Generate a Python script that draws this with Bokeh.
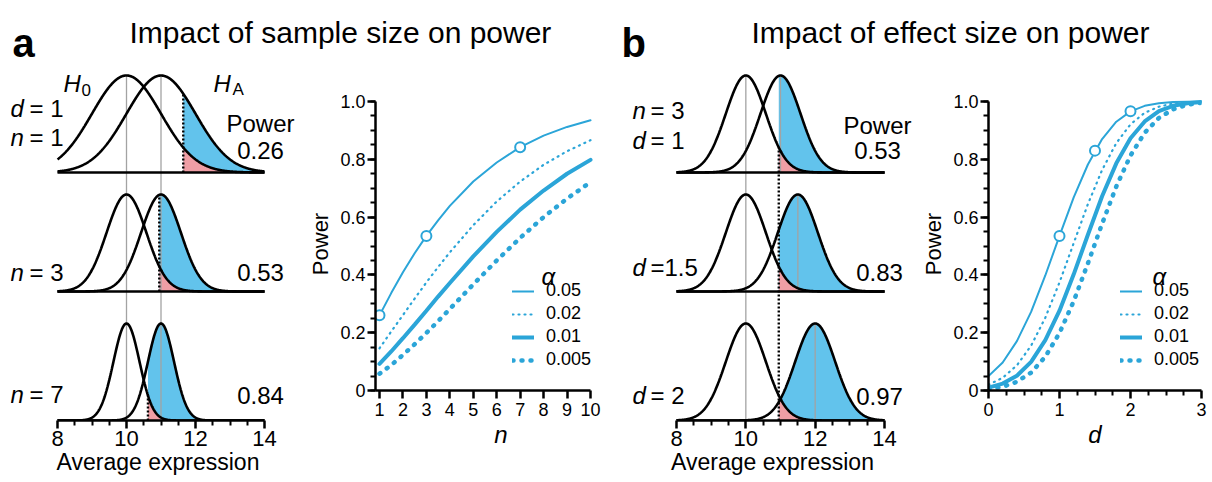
import numpy as np
from bokeh.plotting import figure
from bokeh.layouts import column, row
from bokeh.models import Range1d, FixedTicker, Legend, LegendItem
from bokeh.core.properties import value
from bokeh.embed import file_html
from bokeh.resources import INLINE

# ---------------- data ----------------
H0_MEAN = 10.0
A_HA_MEAN = 11.0
A_N = [1, 3, 7]
A_POWER_TXT = ["0.26", "0.53", "0.84"]
A_DOT_TO = ["HA", "HA", "H0"]
B_N = 3
B_D = [1.0, 1.5, 2.0]
B_POWER_TXT = ["0.53", "0.83", "0.97"]
Z_CRIT = 1.645
DENS_TICKS = [8, 10, 12, 14]
DENS_MINOR = [8.5, 9, 9.5, 10.5, 11, 11.5, 12.5, 13, 13.5]

ALPHAS = ["0.05", "0.02", "0.01", "0.005"]
N_GRID = [1, 1.5, 2, 2.5, 3, 3.5, 4, 5, 6, 7, 8, 9, 10]
POW_N_A05 = [0.26, 0.337, 0.409, 0.475, 0.535, 0.589, 0.639, 0.723, 0.789, 0.842, 0.882, 0.912, 0.935]
POW_N_A02 = [0.146, 0.204, 0.261, 0.318, 0.374, 0.427, 0.478, 0.572, 0.654, 0.723, 0.781, 0.828, 0.866]
POW_N_A01 = [0.092, 0.135, 0.181, 0.228, 0.276, 0.325, 0.372, 0.464, 0.549, 0.626, 0.692, 0.750, 0.798]
POW_N_A005 = [0.058, 0.088, 0.123, 0.160, 0.199, 0.240, 0.282, 0.367, 0.450, 0.528, 0.600, 0.664, 0.721]
MARK_N = [1, 3, 7]
MARK_N_POW = [0.26, 0.535, 0.842]

D_GRID = [0, 0.2, 0.4, 0.6, 0.8, 1.0, 1.2, 1.4, 1.6, 1.8, 2.0, 2.2, 2.4, 2.6, 2.8, 3.0]
POW_D_A05 = [0.050, 0.097, 0.171, 0.272, 0.398, 0.535, 0.668, 0.782, 0.870, 0.930, 0.966, 0.985, 0.994, 0.998, 0.999, 1.000]
POW_D_A02 = [0.020, 0.044, 0.087, 0.155, 0.252, 0.374, 0.510, 0.645, 0.763, 0.856, 0.921, 0.961, 0.982, 0.993, 0.997, 0.999]
POW_D_A01 = [0.010, 0.024, 0.051, 0.099, 0.174, 0.276, 0.402, 0.539, 0.672, 0.786, 0.873, 0.931, 0.967, 0.985, 0.994, 0.998]
POW_D_A005 = [0.005, 0.013, 0.030, 0.062, 0.117, 0.199, 0.309, 0.440, 0.577, 0.706, 0.813, 0.892, 0.943, 0.973, 0.989, 0.996]
MARK_D = [1.0, 1.5, 2.0]
MARK_D_POW = [0.535, 0.830, 0.966]

POWER_TICKS = [0, 0.2, 0.4, 0.6, 0.8, 1.0]
POWER_MINOR = [round(0.05 * i, 2) for i in range(21)]

# ---------------- styles / layout ----------------
FONT = "Liberation Sans"
BLUE = "#2ba5d8"
FILL_BLUE = "#62c3ec"
FILL_PINK = "#ef9ea5"
GRAY = "#a3a3a3"
LINE_W = [2, 2.2, 4, 4.5]
LINE_DASH = ["solid", "1 5", "solid", "1 8"]

HEAD_H = 64
HEAD_SHIFT = 13           # header canvas content appears this much lower
TOTAL_H = 482
BODY_H = TOTAL_H - HEAD_H
AXIS_PY = 420          # page y of density axes
PWR_TOP_PY = 97        # page y of top of power frames
PWR_AXIS_PY = 390      # page y of power x axes
ROW_PY = [172, 291, 420]  # page y of density baselines
PEAK = 97
PPU_A = 34.5
PPU_B = 34.67


def base_fig(**kw):
    p = figure(title=None, toolbar_location=None, output_backend="svg", **kw)
    p.outline_line_color = None
    p.background_fill_color = "white"
    p.border_fill_color = "white"
    p.xgrid.visible = False
    p.ygrid.visible = False
    return p


def txt(p, x, y, s, size, style="normal", align="left", baseline="alphabetic", color="black"):
    p.text(x=[x], y=[y], text=[s], text_font=value(FONT), text_font_size=value(size),
           text_font_style=style, text_align=align, text_baseline=baseline, text_color=color)


def style_axis(ax, lab_size, axlab_size, axlab_style="normal"):
    ax.axis_line_width = 2.5
    ax.axis_line_color = "black"
    ax.major_tick_line_width = 2.5
    ax.minor_tick_line_width = 2
    ax.major_tick_line_color = "black"
    ax.minor_tick_line_color = "black"
    ax.major_tick_out = 8
    ax.major_tick_in = 0
    ax.minor_tick_out = 5
    ax.minor_tick_in = 0
    ax.major_label_text_font = FONT
    ax.major_label_text_font_size = lab_size
    ax.major_label_text_color = "black"
    ax.axis_label_text_font = FONT
    ax.axis_label_text_font_size = axlab_size
    ax.axis_label_text_font_style = axlab_style
    ax.axis_label_text_color = "black"


def gauss(x, m, s):
    return np.exp(-0.5 * ((x - m) / s) ** 2)


# ---------------- header ----------------
head = base_fig(width=1212, height=HEAD_H, x_range=Range1d(0, 1212), y_range=Range1d(HEAD_H, 0),
                min_border=0, min_border_top=0, min_border_bottom=0,
                x_axis_location=None, y_axis_location=None)
txt(head, 12, 55 - HEAD_SHIFT, "a", "40px", "bold")
txt(head, 129, 45 - HEAD_SHIFT, "Impact of sample size on power", "30px")
txt(head, 621, 55 - HEAD_SHIFT, "b", "40px", "bold")
txt(head, 751, 45 - HEAD_SHIFT, "Impact of effect size on power", "30px")


# ---------------- density figures ----------------
def dens_fig(width, left_border, fig_left_px, x8_px, ppu):
    frame_left = fig_left_px + left_border
    frame_w = width - left_border
    start = 8 - (x8_px - frame_left) / ppu
    p = base_fig(width=width, height=BODY_H,
                 x_range=Range1d(start, start + frame_w / ppu),
                 y_range=Range1d(0, AXIS_PY - HEAD_H),
                 min_border_left=left_border, min_border_right=0, min_border_top=0,
                 min_border_bottom=TOTAL_H - AXIS_PY, y_axis_location=None)
    ax = p.xaxis[0]
    ax.ticker = FixedTicker(ticks=DENS_TICKS, minor_ticks=DENS_MINOR)
    ax.bounds = (8, 14)
    ax.axis_label = "Average expression"
    style_axis(ax, "22px", "23px")
    ax.major_label_standoff = 2
    ax.axis_label_standoff = 0
    X = lambda px: start + (px - frame_left) / ppu
    Y = lambda py: AXIS_PY - py
    return p, X, Y


def draw_fill(p, base, m0, ma, sd):
    xc = m0 + Z_CRIT * sd
    xf = np.linspace(xc, 14, 200)
    b = np.full_like(xf, base)
    p.varea(x=xf, y1=b, y2=base + PEAK * gauss(xf, ma, sd), fill_color=FILL_BLUE)
    p.varea(x=xf, y1=b, y2=base + PEAK * gauss(xf, m0, sd), fill_color=FILL_PINK)


def draw_curves(p, base, m0, ma, sd, baseline=True):
    xs = np.linspace(8, 14, 500)
    p.line(xs, base + PEAK * gauss(xs, m0, sd), line_color="black", line_width=2.6)
    p.line(xs, base + PEAK * gauss(xs, ma, sd), line_color="black", line_width=2.6)
    if baseline:
        p.line([8, 14], [base, base], line_color="black", line_width=2.6)


# panel a densities
DA_W = 305
dA, XA, YA = dens_fig(DA_W, 10, 0, 57, PPU_A)
for i, n in enumerate(A_N):
    draw_fill(dA, YA(ROW_PY[i]), H0_MEAN, A_HA_MEAN, 1 / np.sqrt(n))
top_a = YA(ROW_PY[0]) + PEAK
for m in (H0_MEAN, A_HA_MEAN):
    dA.line([m, m], [0, top_a], line_color=GRAY, line_width=1.3)
for i, n in enumerate(A_N):
    sd = 1 / np.sqrt(n)
    base = YA(ROW_PY[i])
    draw_curves(dA, base, H0_MEAN, A_HA_MEAN, sd, baseline=(i < 2))
    xc = H0_MEAN + Z_CRIT * sd
    mtop = A_HA_MEAN if A_DOT_TO[i] == "HA" else H0_MEAN
    dA.line([xc, xc], [base, base + PEAK * gauss(xc, mtop, sd)], line_color="black",
            line_width=2.4, line_dash="2 2")

txt(dA, XA(63), YA(83), "H", "24px", "italic")
txt(dA, XA(81), YA(89), "0", "17px")
txt(dA, XA(213), YA(83), "H", "24px", "italic")
txt(dA, XA(232), YA(89), "A", "17px")
txt(dA, XA(10), YA(108), "d", "24px", "italic")
txt(dA, XA(29), YA(108), "= 1", "24px")
for i, n in enumerate(A_N):
    by = [137, 272, 394][i]
    txt(dA, XA(10), YA(by), "n", "24px", "italic")
    txt(dA, XA(29), YA(by), "= %d" % n, "24px")
txt(dA, XA(260), YA(123), "Power", "24px", align="center")
txt(dA, XA(260), YA(150), A_POWER_TXT[0], "24px", align="center")
txt(dA, XA(260), YA(272), A_POWER_TXT[1], "24px", align="center")
txt(dA, XA(260), YA(395), A_POWER_TXT[2], "24px", align="center")

# panel b densities
PB_LEFT = 918
DB_W = PB_LEFT - 626
dB, XB, YB = dens_fig(DB_W, 0, 626, 676, PPU_B)
sd_b = 1 / np.sqrt(B_N)
for i, d in enumerate(B_D):
    draw_fill(dB, YB(ROW_PY[i]), H0_MEAN, H0_MEAN + d, sd_b)
top_b = YB(ROW_PY[0]) + PEAK
dB.line([H0_MEAN, H0_MEAN], [0, top_b], line_color=GRAY, line_width=1.3)
for i, d in enumerate(B_D):
    base = YB(ROW_PY[i])
    dB.line([H0_MEAN + d, H0_MEAN + d], [base, base + PEAK], line_color=GRAY, line_width=1.3)
for i, d in enumerate(B_D):
    draw_curves(dB, YB(ROW_PY[i]), H0_MEAN, H0_MEAN + d, sd_b, baseline=(i < 2))
xc_b = H0_MEAN + Z_CRIT * sd_b
dB.line([xc_b, xc_b], [0, YB(ROW_PY[0]) + PEAK * gauss(xc_b, H0_MEAN, sd_b)],
        line_color="black", line_width=2.4, line_dash="2 2")

txt(dB, XB(632), YB(110), "n", "24px", "italic")
txt(dB, XB(650), YB(110), "= %d" % B_N, "24px")
lbl_b = ["= 1", "=1.5", "= 2"]
for i, by in enumerate([140, 267, 395]):
    txt(dB, XB(632), YB(by), "d", "24px", "italic")
    txt(dB, XB(650), YB(by), lbl_b[i], "24px")
txt(dB, XB(877), YB(125), "Power", "24px", align="center")
txt(dB, XB(877), YB(150), B_POWER_TXT[0], "24px", align="center")
txt(dB, XB(879), YB(272), B_POWER_TXT[1], "24px", align="center")
txt(dB, XB(879), YB(396), B_POWER_TXT[2], "24px", align="center")


# ---------------- power figures ----------------
def power_fig(width, left_border, right_border, xr, xticks, xminor, xlabel, xbounds):
    p = base_fig(width=width, height=BODY_H, x_range=Range1d(*xr),
                 y_range=Range1d(0, 1 + 4 / (PWR_AXIS_PY - PWR_TOP_PY - 4)),
                 min_border_left=left_border, min_border_right=right_border,
                 min_border_top=PWR_TOP_PY - HEAD_H, min_border_bottom=TOTAL_H - PWR_AXIS_PY)
    xa = p.xaxis[0]
    xa.ticker = FixedTicker(ticks=xticks, minor_ticks=xminor)
    xa.bounds = xbounds
    xa.axis_label = xlabel
    style_axis(xa, "18px", "24px", "italic")
    xa.major_label_standoff = 4
    xa.axis_label_standoff = 2
    ya = p.yaxis[0]
    ya.ticker = FixedTicker(ticks=POWER_TICKS, minor_ticks=POWER_MINOR)
    ya.bounds = (0, 1)
    ya.major_label_overrides = {0: "0", 1: "1.0"}
    ya.axis_label = "Power"
    style_axis(ya, "18px", "22px")
    ya.major_label_standoff = 2
    ya.axis_label_standoff = 4
    return p


def draw_power(p, xs, series, mx, my, legend_loc, alpha_xy):
    items = []
    for lab, ys, w, dash in zip(ALPHAS, series, LINE_W, LINE_DASH):
        r = p.line(xs, ys, line_color=BLUE, line_width=w, line_dash=dash, line_cap="round")
        items.append(LegendItem(label=lab, renderers=[r]))
    p.scatter(mx, my, marker="circle", size=10, fill_color="white", line_color=BLUE, line_width=2)
    leg = Legend(items=items, location=legend_loc, padding=0, margin=0, spacing=2,
                 glyph_width=22, glyph_height=20, label_height=20, label_standoff=12,
                 label_text_font=FONT, label_text_font_size="18px", label_text_color="black",
                 border_line_color=None, background_fill_alpha=0)
    p.add_layout(leg)
    txt(p, alpha_xy[0], alpha_xy[1], "α", "24px", "italic")


ppu_n = 211 / 9
PA_LEFT = DA_W
PA_FRAME_LEFT = 375
xa_start = 1 - (379 - PA_FRAME_LEFT) / ppu_n
pA = power_fig(626 - PA_LEFT, PA_FRAME_LEFT - PA_LEFT, 0,
               (xa_start, xa_start + (626 - PA_FRAME_LEFT) / ppu_n),
               list(range(1, 11)), [], "n", (xa_start, 10))
draw_power(pA, N_GRID, [POW_N_A05, POW_N_A02, POW_N_A01, POW_N_A005], MARK_N, MARK_N_POW,
           (512 - PA_FRAME_LEFT, 20), (xa_start + (541 - PA_FRAME_LEFT) / ppu_n, (390 - 276) / 289))

pB = power_fig(1212 - PB_LEFT, 988 - PB_LEFT, 11, (0, 3), [0, 1, 2, 3],
               [0.25, 0.5, 0.75, 1.25, 1.5, 1.75, 2.25, 2.5, 2.75], "d", (0, 3))
draw_power(pB, D_GRID, [POW_D_A05, POW_D_A02, POW_D_A01, POW_D_A005], MARK_D, MARK_D_POW,
           (1120 - 988, 20), ((1152 - 988) / 71, (390 - 276) / 289))

layout = column(column(head), row(column(dA), column(pA), column(dB), column(pB), spacing=0), spacing=0)
open("out.html", "w").write(file_html(layout, INLINE))
